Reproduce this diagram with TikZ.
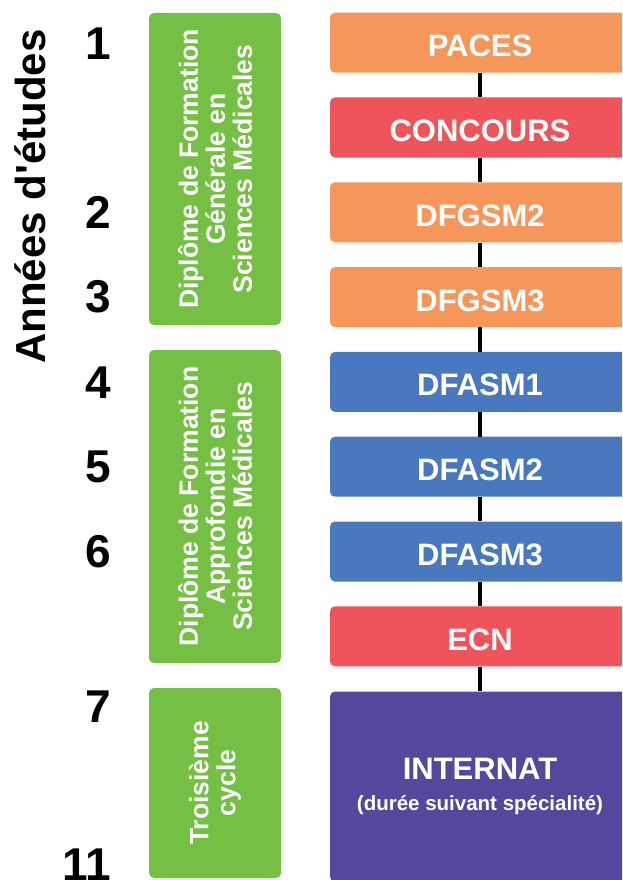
\documentclass[tikz,border=0pt]{standalone}
\usepackage{fontspec}
\setmainfont{Liberation Sans}
\usetikzlibrary{positioning}
\definecolor{stepor}{HTML}{F5975A}
\definecolor{stepred}{HTML}{EE545A}
\definecolor{stepblue}{HTML}{4A78BF}
\definecolor{steppurple}{HTML}{55479B}
\definecolor{cyclegreen}{HTML}{74BF44}

\begin{document}
\begin{tikzpicture}[x=1pt, y=-1pt,
  stagebox/.style={rounded corners=5pt, minimum width=300pt, minimum height=60pt, inner sep=0pt, text=white, font=\fontsize{31}{34}\selectfont\bfseries},
  stage/.style={stagebox, text height=28pt, text depth=0pt},
  cyclebox/.style={fill=cyclegreen, rounded corners=5pt, rotate=90, minimum height=132pt, inner sep=0pt, align=center, text=white, font=\fontsize{26.5}{27}\selectfont\bfseries},
  yearnum/.style={anchor=base east, inner sep=0pt, font=\fontsize{46}{46}\selectfont\bfseries},
  link/.style={line width=4.5pt}
]
\useasboundingbox (0,0) rectangle (622,880);
\clip (0,0) rectangle (622,880);

% axis title and years
\node[rotate=90, anchor=base, font=\fontsize{42}{42}\selectfont\bfseries] (title) at (45,196.5) {Années d\textquotesingle études};
\node[yearnum] (y1) at (111.5,60) {1};
\node[yearnum] (y2) at (111.5,228) {2};
\node[yearnum] (y3) at (111.5,312) {3};
\node[yearnum] (y4) at (111.5,398) {4};
\node[yearnum] (y5) at (111.5,482) {5};
\node[yearnum] (y6) at (111.5,567) {6};
\node[yearnum] (y7) at (111.5,722) {7};
\node[yearnum] (y11) at (111.5,880) {11};

% cycles
\node[cyclebox, minimum width=312pt] (dfgsm) at (215,169) {Diplôme de Formation\\Générale en\\Sciences Médicales};
\node[cyclebox, minimum width=313pt] (dfasm) at (215,506.5) {Diplôme de Formation\\Approfondie en\\Sciences Médicales};
\node[cyclebox, minimum width=190pt] (third) at (215,783) {Troisième\\cycle};

% cursus
\node[stage, fill=stepor] (paces) at (480,42.7) {PACES};
\node[stage, fill=stepred, below=24.4pt of paces] (concours) {CONCOURS};
\node[stage, fill=stepor, below=24.4pt of concours] (dfgsm2) {DFGSM2};
\node[stage, fill=stepor, below=24.4pt of dfgsm2] (dfgsm3) {DFGSM3};
\node[stage, fill=stepblue, below=24.4pt of dfgsm3] (dfasm1) {DFASM1};
\node[stage, fill=stepblue, below=24.4pt of dfasm1] (dfasm2) {DFASM2};
\node[stage, fill=stepblue, below=24.4pt of dfasm2] (dfasm3) {DFASM3};
\node[stage, fill=stepred, below=24.4pt of dfasm3] (ecn) {ECN};
\node[stagebox, fill=steppurple, minimum height=190pt, align=center, below=24.8pt of ecn] (internat) {INTERNAT\\[-3pt]{\fontsize{20.5}{24}\selectfont (durée suivant spécialité)}};

\draw[link] (paces) -- (concours);
\draw[link] (concours) -- (dfgsm2);
\draw[link] (dfgsm2) -- (dfgsm3);
\draw[link] (dfgsm3) -- (dfasm1);
\draw[link] (dfasm1) -- (dfasm2);
\draw[link] (dfasm2) -- (dfasm3);
\draw[link] (dfasm3) -- (ecn);
\draw[link] (ecn) -- (internat);
\end{tikzpicture}
\end{document}
